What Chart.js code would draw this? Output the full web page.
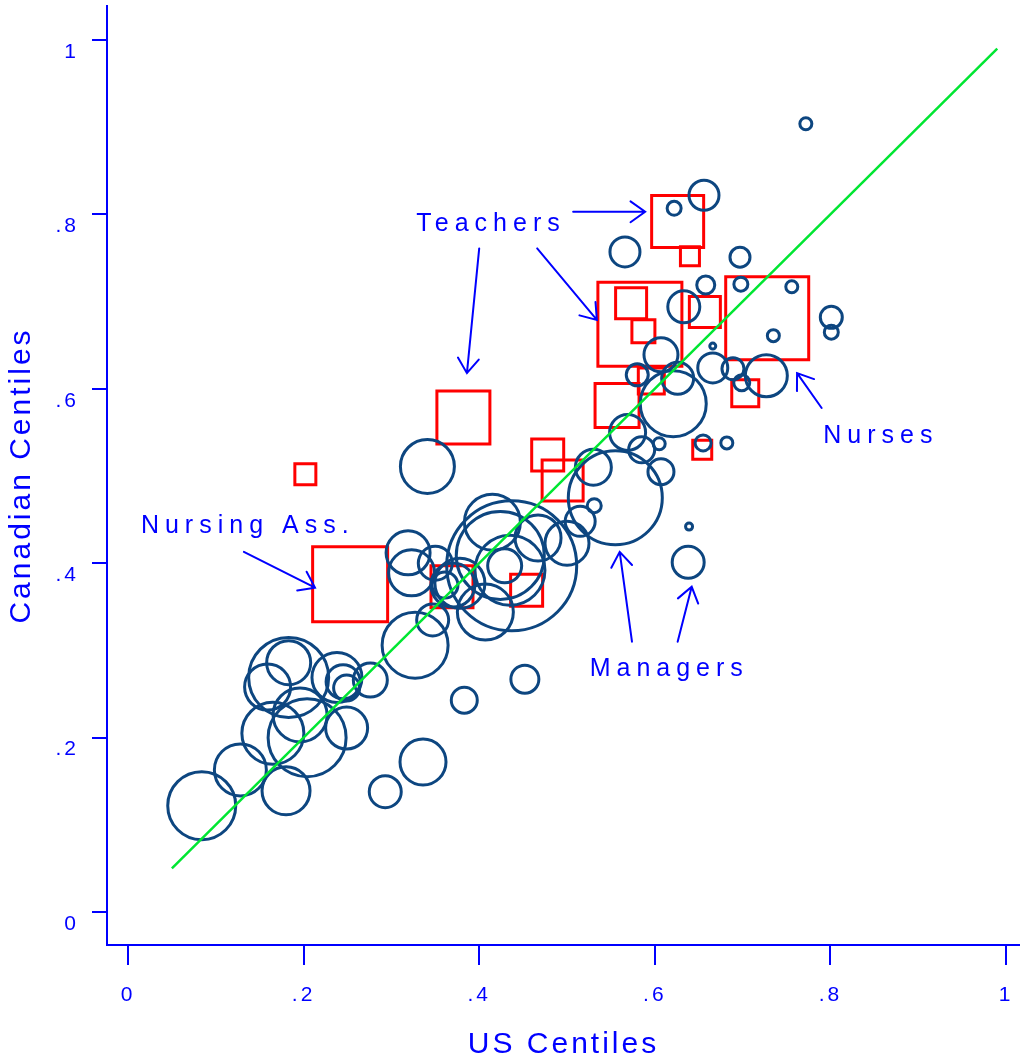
<!DOCTYPE html>
<html>
<head>
<meta charset="utf-8">
<script src="https://cdn.jsdelivr.net/npm/chart.js@4.4.1/dist/chart.umd.min.js"></script>
<style>
  html, body { margin: 0; padding: 0; background: #fff; }
</style>
</head>
<body>
<canvas id="myChart" width="1020" height="1063"></canvas>
<script>
// other occupations (circles): US centile, Canadian centile, marker size
var occUS = [0.772, 0.656, 0.622, 0.566, 0.697, 0.658, 0.698, 0.756, 0.801, 0.801,
             0.633, 0.735, 0.666, 0.607, 0.666, 0.689, 0.699, 0.727, 0.580, 0.626,
             0.621, 0.569, 0.585, 0.605, 0.607, 0.655, 0.682, 0.530, 0.531, 0.555,
             0.515, 0.500, 0.467, 0.639, 0.638, 0.452, 0.383, 0.336, 0.293, 0.341,
             0.319, 0.323, 0.350, 0.361, 0.370, 0.378, 0.415, 0.424, 0.435, 0.429,
             0.437, 0.407, 0.327, 0.347, 0.276, 0.084, 0.128, 0.180, 0.165, 0.204,
             0.196, 0.249, 0.183, 0.183, 0.159, 0.238, 0.245, 0.249];
var occCA = [0.904, 0.822, 0.807, 0.757, 0.751, 0.719, 0.720, 0.717, 0.682, 0.665,
             0.694, 0.661, 0.649, 0.639, 0.624, 0.623, 0.607, 0.615, 0.616, 0.612,
             0.583, 0.550, 0.530, 0.537, 0.505, 0.538, 0.538, 0.510, 0.466, 0.475,
             0.448, 0.423, 0.429, 0.442, 0.401, 0.267, 0.243, 0.172, 0.138, 0.511,
             0.412, 0.389, 0.400, 0.375, 0.375, 0.377, 0.447, 0.409, 0.392, 0.397,
             0.397, 0.344, 0.306, 0.335, 0.266, 0.122, 0.163, 0.139, 0.205, 0.200,
             0.226, 0.211, 0.269, 0.286, 0.258, 0.269, 0.264, 0.257];
var occSize = [6, 15, 7, 15, 10, 9, 7, 6, 11, 7,
               16, 6, 3, 17, 15, 11, 8, 21, 11, 16,
               33, 18, 13, 6, 13, 8, 6, 18, 7, 47,
               15, 22, 23, 3.5, 16, 14, 13, 23, 16, 27,
               22, 23, 17, 13, 22, 25, 28, 44, 35, 17,
               65, 28, 33, 16, 17, 34, 26, 24, 31, 39,
               27, 21, 40, 22, 23, 25, 17, 13];

// female dominated occupations (squares)
var femUS = [0.202, 0.253, 0.382, 0.478, 0.495, 0.369, 0.454, 0.557, 0.654,
             0.703, 0.596, 0.657, 0.728, 0.583, 0.573, 0.587, 0.626, 0.640];
var femCA = [0.502, 0.376, 0.567, 0.524, 0.495, 0.373, 0.369, 0.581, 0.530,
             0.595, 0.609, 0.688, 0.681, 0.674, 0.698, 0.666, 0.792, 0.752];
var femSize = [10.5, 37.5, 26.5, 16, 20.5, 21, 16, 22, 9.5,
               13.5, 13, 15.5, 41.5, 42, 15.5, 11.5, 26, 9.5];

// reference line
var lineUS = [0.05, 0.99];
var lineCA = [0.05, 0.99];

var tickValues = [0, 0.2, 0.4, 0.6, 0.8, 1];
var tickLabels = ['0', '.2', '.4', '.6', '.8', '1'];

// annotations
var noteText = ['Teachers', 'Nursing Ass.', 'Managers', 'Nurses'];
var noteX = [0.410, 0.133, 0.613, 0.854];
var noteY = [0.789, 0.443, 0.279, 0.546];
var arrows = [
    [0.507, 0.803, 0.589, 0.803],
    [0.466, 0.761, 0.534, 0.679],
    [0.400, 0.761, 0.386, 0.618],
    [0.132, 0.413, 0.213, 0.372],
    [0.574, 0.310, 0.560, 0.413],
    [0.626, 0.310, 0.642, 0.373],
    [0.790, 0.578, 0.762, 0.618]
];

var BLUE = '#0000ff';

function points(xs, ys, sizes, k) {
    return xs.map(function(x, i) {
        var p = {x: x, y: ys[i]};
        if (sizes) p.r = sizes[i] * k;
        return p;
    });
}

function noPadding(s) {
    s.paddingLeft = s.paddingRight = s.paddingTop = s.paddingBottom = 0;
}

var notesPlugin = {
    id: 'notes',
    beforeLayout: function(chart) {
        chart.ctx.letterSpacing = '3px';
    },
    afterDatasetsDraw: function(chart) {
        var ctx = chart.ctx;
        var xs = chart.scales.x, ys = chart.scales.y;
        ctx.save();
        ctx.strokeStyle = BLUE;
        ctx.fillStyle = BLUE;
        ctx.lineWidth = 2;
        ctx.lineCap = 'round';
        arrows.forEach(function(a) {
            var x0 = xs.getPixelForValue(a[0]), y0 = ys.getPixelForValue(a[1]);
            var x1 = xs.getPixelForValue(a[2]), y1 = ys.getPixelForValue(a[3]);
            var ang = Math.atan2(y1 - y0, x1 - x0);
            var len = 18, spread = 0.62;
            ctx.beginPath();
            ctx.moveTo(x0, y0);
            ctx.lineTo(x1, y1);
            ctx.moveTo(x1 - len * Math.cos(ang - spread), y1 - len * Math.sin(ang - spread));
            ctx.lineTo(x1, y1);
            ctx.lineTo(x1 - len * Math.cos(ang + spread), y1 - len * Math.sin(ang + spread));
            ctx.stroke();
        });
        var sp = 6;
        ctx.font = '25px "Liberation Sans", Arial, sans-serif';
        ctx.letterSpacing = sp + 'px';
        ctx.textAlign = 'left';
        ctx.textBaseline = 'middle';
        noteText.forEach(function(t, i) {
            var w = ctx.measureText(t).width - sp;
            ctx.fillText(t, xs.getPixelForValue(noteX[i]) - w / 2, ys.getPixelForValue(noteY[i]));
        });
        ctx.restore();
    }
};

var ctx = document.getElementById('myChart').getContext('2d');
var chart = new Chart(ctx, {
    type: 'bubble',
    data: {
        datasets: [{
            type: 'line',
            label: 'fit',
            data: points(lineUS, lineCA),
            borderColor: '#00e632',
            borderWidth: 2.5,
            pointRadius: 0,
            fill: false,
            order: 0
        }, {
            label: 'occupations',
            data: points(occUS, occCA, occSize, 1),
            borderColor: '#0d4680',
            backgroundColor: 'rgba(0,0,0,0)',
            borderWidth: 3,
            order: 1
        }, {
            label: 'female occupations',
            data: points(femUS, femCA, femSize, Math.SQRT2),
            pointStyle: 'rect',
            borderColor: '#ff0000',
            backgroundColor: 'rgba(0,0,0,0)',
            borderWidth: 3,
            order: 2
        }]
    },
    options: {
        responsive: false,
        animation: false,
        events: [],
        layout: {autoPadding: false, padding: {top: 6, right: 0, bottom: 0, left: 0}},
        plugins: {legend: {display: false}, tooltip: {enabled: false}},
        scales: {
            x: {
                type: 'linear',
                min: -0.0239,
                max: 1.0159,
                afterBuildTicks: function(s) { s.ticks = tickValues.map(function(v) { return {value: v}; }); },
                afterFit: function(s) { s.height = 118; noPadding(s); },
                grid: {drawOnChartArea: false, color: BLUE, lineWidth: 2, tickLength: 20},
                border: {color: BLUE, width: 2},
                ticks: {
                    color: BLUE,
                    padding: 18,
                    maxRotation: 0,
                    font: {family: '"Liberation Sans", Arial, sans-serif', size: 21},
                    callback: function(v) { return tickLabels[tickValues.indexOf(v)]; }
                },
                title: {
                    display: true,
                    text: 'US Centiles',
                    color: BLUE,
                    padding: {top: 0, bottom: 0},
                    font: {family: '"Liberation Sans", Arial, sans-serif', size: 30}
                }
            },
            y: {
                type: 'linear',
                min: -0.0378,
                max: 1.039,
                afterBuildTicks: function(s) { s.ticks = tickValues.map(function(v) { return {value: v}; }); },
                afterFit: function(s) { s.width = 107; noPadding(s); },
                grid: {drawOnChartArea: false, color: BLUE, lineWidth: 2, tickLength: 15},
                border: {color: BLUE, width: 2},
                ticks: {
                    color: BLUE,
                    padding: 13,
                    labelOffset: 12,
                    font: {family: '"Liberation Sans", Arial, sans-serif', size: 21},
                    callback: function(v) { return tickLabels[tickValues.indexOf(v)]; }
                },
                title: {
                    display: true,
                    text: 'Canadian Centiles',
                    color: BLUE,
                    padding: {top: 4, bottom: 0},
                    font: {family: '"Liberation Sans", Arial, sans-serif', size: 30}
                }
            }
        }
    },
    plugins: [notesPlugin]
});
</script>
</body>
</html>
